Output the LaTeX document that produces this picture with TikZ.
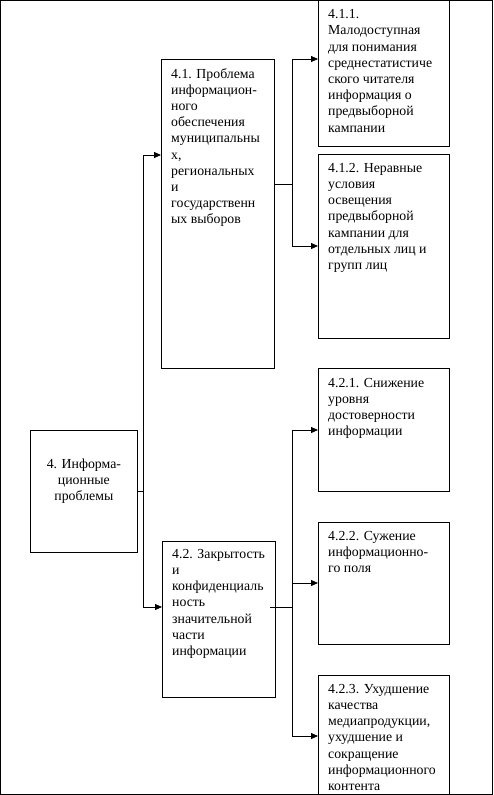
\documentclass[tikz,border=0pt]{standalone}
\usepackage{fontspec}
\setmainfont{Liberation Serif}
\usetikzlibrary{arrows.meta,calc}
\tikzset{
  box/.style={draw=black, line width=0.8pt, inner sep=0pt, anchor=north west},
  txt/.style={inner sep=0pt, anchor=north west, align=left, font=\fontsize{13.8}{16.2}\selectfont},
  ctxt/.style={inner sep=0pt, align=center, font=\fontsize{13.8}{16}\selectfont},
  line/.style={draw=black, line width=0.8pt},
  arr/.style={line, -{Triangle[length=7pt,width=6pt]}}
}
\newcommand{\bx}[5]{\node[box, minimum width={#4-#2}, minimum height={#5-#3}] (#1) at (#2,#3) {};}
\begin{document}
\begin{tikzpicture}[x=1pt,y=-1pt]
\useasboundingbox (0,0) rectangle (493,795);
\begin{scope}
\clip (0,0) rectangle (493,795);
\bx{root}{30}{430}{137}{552}
\bx{b41}{161}{59}{274}{368}
\bx{b42}{162}{541}{275}{697}
\bx{b411}{318}{-10}{449}{146}
\bx{b412}{318}{154}{449}{338}
\bx{b421}{318}{368}{449}{491}
\bx{b422}{318}{522}{449}{644}
\bx{b423}{318}{675}{449}{820}
\end{scope}
\draw[line width=1.4pt] (0.7,0.7) rectangle (492.3,794.3);

\node[ctxt] (troot) at ($(root.center)+(0,-10)$) {4. Информа-\\ционные\\проблемы};
\node[txt] (t41) at ($(b41.north west)+(10,9)$) {4.1. Проблема\\информацион-\\ного\\обеспечения\\муниципальны\\х,\\региональных\\и\\государственн\\ых выборов};
\node[txt] (t411) at ($(b411.north west)+(10,19.3)$) {4.1.1.\\Малодоступная\\для понимания\\среднестатистиче\\ского читателя\\информация о\\предвыборной\\кампании};
\node[txt] (t412) at ($(b412.north west)+(10,9)$) {4.1.2. Неравные\\условия\\освещения\\предвыборной\\кампании для\\отдельных лиц и\\групп лиц};
\node[txt] (t421) at ($(b421.north west)+(10,10)$) {4.2.1. Снижение\\уровня\\достоверности\\информации};
\node[txt] (t422) at ($(b422.north west)+(10,9)$) {4.2.2. Сужение\\информационно-\\го поля};
\node[txt] (t423) at ($(b423.north west)+(10,9)$) {4.2.3. Ухудшение\\качества\\медиапродукции,\\ухудшение и\\сокращение\\информационного\\контента};
\node[txt] (t42) at ($(b42.north west)+(10,8)$) {4.2. Закрытость\\и\\конфиденциаль\\ность\\значительной\\части\\информации};

% trunk
\coordinate (tA) at (143,155);
\coordinate (tB) at (143,607);
\draw[line] (root.east) -- (root.east -| tA);
\draw[line] (tA) -- (tB);
\draw[arr] (tA) -- (tA -| b41.west);
\draw[arr] (tB) -- (tB -| b42.west);

% 4.1 bus
\coordinate (sA) at (274,184);
\coordinate (uA) at (292,59);
\coordinate (uB) at (292,246);
\draw[line] (sA) -- (sA -| uA);
\draw[line] (uA) -- (uB);
\draw[arr] (uA) -- (uA -| b411.west);
\draw[arr] (uB) -- (uB -| b412.west);

% 4.2 bus
\coordinate (sB) at (270,607);
\coordinate (vA) at (292,430);
\coordinate (vB) at (292,583);
\coordinate (vC) at (292,736);
\draw[line] (sB) -- ($(sB -| vA)+(1,0)$);
\draw[line] (vA) -- (vC);
\draw[arr] (vA) -- (vA -| b421.west);
\draw[arr] (vB) -- (vB -| b422.west);
\draw[arr] (vC) -- (vC -| b423.west);
\end{tikzpicture}
\end{document}
